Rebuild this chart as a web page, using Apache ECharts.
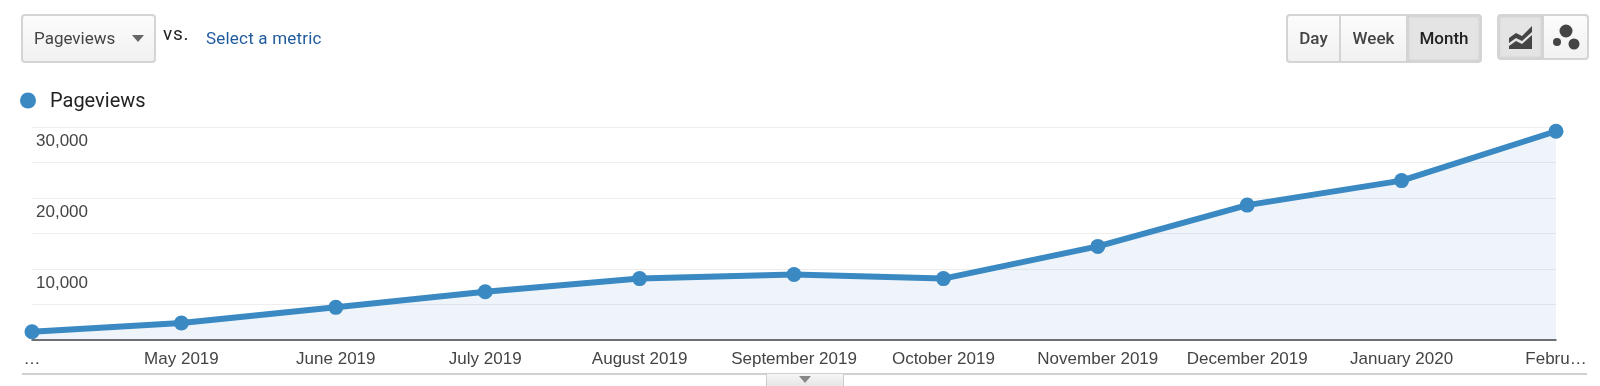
<!DOCTYPE html>
<html>
<head>
<meta charset="utf-8">
<script src="https://cdn.jsdelivr.net/npm/echarts@6/dist/echarts.min.js"></script>
<style>
html, body { margin: 0; padding: 0; background: #fff; }
#page { position: relative; width: 1600px; height: 386px; overflow: hidden; font-family: Roboto, sans-serif; }
#chart { position: absolute; left: 0; top: 0; width: 1600px; height: 386px; }
.ctl { position: absolute; box-sizing: border-box; border: 2px solid #d4d4d4; border-radius: 4px; background: linear-gradient(#fcfcfc, #f1f1f1); }
.metric { left: 21px; top: 14px; width: 135px; height: 49px; font-size: 17px; color: #444; line-height: 45px; padding-left: 11px; }
.caret { position: absolute; width: 0; height: 0; border-left: 6px solid transparent; border-right: 6px solid transparent; border-top: 7px solid #666; }
.metric .caret { left: 109px; top: 19px; }
.vs { position: absolute; left: 163px; top: 24px; font-size: 19px; line-height: 20px; color: #222; letter-spacing: 0.8px; }
.link { position: absolute; left: 206px; top: 28px; font-size: 17px; line-height: 20px; color: #1f5b9c; letter-spacing: 0.2px; }
.group { display: flex; padding: 0; overflow: hidden; }
.period { left: 1286px; top: 14px; width: 196px; height: 49px; }
.period div { box-sizing: border-box; height: 45px; line-height: 45px; text-align: center; font-size: 17px; font-weight: 500; color: #444; border-right: 2px solid #d4d4d4; }
.period div:last-child { border-right: 0; }
.period .on, .view .on { background: #e4e4e4; color: #222; box-shadow: inset 0 0 3px #bbb; }
.view { left: 1497px; top: 14px; width: 92px; height: 46px; }
.view div { box-sizing: border-box; height: 42px; display: flex; align-items: center; justify-content: center; }
.view div:first-child { width: 46px; border-right: 2px solid #d4d4d4; }
.view div:last-child { width: 44px; }
.rule { position: absolute; left: 22px; top: 373px; width: 1565px; height: 2px; background: #d0d0d0; }
.tab { position: absolute; left: 766px; top: 374px; width: 78px; height: 12px; box-sizing: border-box; background: linear-gradient(#f6f6f6, #e6e6e6); border-left: 1px solid #ccc; border-right: 1px solid #ccc; }
.tab .caret { left: 32px; top: 2px; border-top-color: #888; }
</style>
</head>
<body>
<div id="page">
  <div id="chart"></div>
  <div class="ctl metric">Pageviews<span class="caret"></span></div>
  <div class="vs">vs.</div>
  <div class="link">Select a metric</div>
  <div class="ctl group period">
    <div style="width:53px">Day</div>
    <div style="width:67px">Week</div>
    <div class="on" style="width:72px">Month</div>
  </div>
  <div class="ctl group view">
    <div class="on">
      <svg width="26" height="26" viewBox="0 0 26 26"><path d="M1 14 L8 9 L14 12 L24 2 V8 L14 17 L8 14 L1 19 Z M1 22 L8 17 L14 20 L24 11 V25 H1 Z" fill="#444"/></svg>
    </div>
    <div>
      <svg width="28" height="26" viewBox="0 0 28 26"><circle cx="14" cy="7" r="6.5" fill="#444"/><circle cx="5" cy="18" r="4" fill="#444"/><circle cx="22" cy="20" r="5.5" fill="#444"/></svg>
    </div>
  </div>
  <div class="rule"></div>
  <div class="tab"><span class="caret"></span></div>
</div>
<script>
// month starts as timestamps on a value axis, month widths differ a bit like the original
const months = ['2019-04-01', '2019-05-01', '2019-06-01', '2019-07-01', '2019-08-01', '2019-09-01',
  '2019-10-01', '2019-11-01', '2019-12-01', '2020-01-01', '2020-02-01']
const monthLabels = ['…', 'May 2019', 'June 2019', 'July 2019', 'August 2019', 'September 2019',
  'October 2019', 'November 2019', 'December 2019', 'January 2020', 'Febru…']
const pageviews = [1170, 2390, 4600, 6790, 8650, 9230, 8650, 13180, 19000, 22450, 29400]
const yLabelValues = [10000, 20000, 30000]

const monthTimes = months.map(m => Date.parse(m + 'T00:00:00Z'))

const chart = echarts.init(document.getElementById('chart'), null, { renderer: 'canvas' })

chart.setOption({
  animation: false,
  textStyle: { fontFamily: 'Liberation Sans, Arial, sans-serif' },
  legend: {
    left: 20,
    top: 92,
    padding: 0,
    icon: 'circle',
    itemWidth: 16,
    itemHeight: 16,
    selectedMode: false,
    formatter: '{t|{name}}',
    textStyle: {
      padding: [0, 0, 0, 9],
      rich: { t: { fontFamily: 'Roboto, sans-serif', fontSize: 20, color: '#222', padding: [3, 0, 0, 0] } }
    },
    data: ['Pageviews']
  },
  grid: { left: 32, right: 44, top: 127, height: 213 },
  xAxis: {
    type: 'value',
    min: monthTimes[0],
    max: monthTimes[monthTimes.length - 1],
    axisLine: { lineStyle: { color: '#444', width: 1.5 } },
    axisTick: { show: false },
    splitLine: { show: false },
    axisLabel: {
      customValues: monthTimes,
      margin: 11,
      fontSize: 17,
      color: '#444',
      formatter: v => monthLabels[monthTimes.indexOf(v)] || ''
    }
  },
  yAxis: {
    type: 'value',
    min: 0,
    max: 30000,
    interval: 5000,
    axisLine: { show: false },
    axisTick: { show: false },
    splitLine: { show: true, lineStyle: { color: '#eeeeee', width: 1 } },
    axisLabel: {
      customValues: yLabelValues,
      inside: true,
      margin: 4,
      fontSize: 17,
      color: '#444',
      verticalAlign: 'top',
      padding: [6, 0, 0, 0],
      formatter: v => v.toLocaleString('en-US')
    }
  },
  series: [{
    name: 'Pageviews',
    type: 'line',
    data: monthTimes.map((t, i) => [t, pageviews[i]]),
    clip: false,
    symbol: 'circle',
    symbolSize: 15,
    itemStyle: { color: '#3a89c2' },
    lineStyle: { color: '#3a89c2', width: 6 },
    areaStyle: { color: 'rgba(20,100,190,0.1)' }
  }]
})
</script>
</body>
</html>
